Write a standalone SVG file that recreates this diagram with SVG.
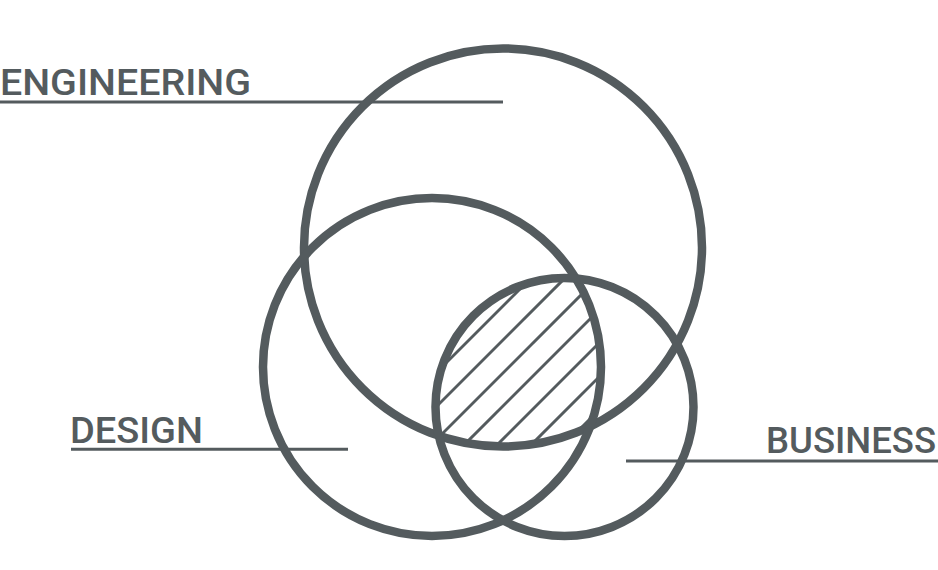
<svg xmlns="http://www.w3.org/2000/svg" width="938" height="570" viewBox="0 0 938 570">
<style>
.ring{fill:none;stroke:#545b5e;stroke-width:8.5}
.hatch{stroke:#545b5e;stroke-width:3}
.lead{stroke:#545b5e;stroke-width:3}
.label{font-family:Roboto,"Liberation Sans",Arial,sans-serif;font-weight:500;font-size:37px;fill:#545b5e}
</style>
<defs>
<clipPath id="cEng"><circle cx="503" cy="247.5" r="199"/></clipPath>
<clipPath id="cDes" clip-path="url(#cEng)"><circle cx="432" cy="367" r="169"/></clipPath>
<clipPath id="cBus" clip-path="url(#cDes)"><circle cx="564.5" cy="407" r="129"/></clipPath>
</defs>
<rect width="938" height="570" fill="#ffffff"/>
<g id="hatching" clip-path="url(#cBus)">
<line class="hatch" x1="300" y1="509" x2="700" y2="109"/>
<line class="hatch" x1="300" y1="543" x2="700" y2="143"/>
<line class="hatch" x1="300" y1="576" x2="700" y2="176"/>
<line class="hatch" x1="300" y1="609" x2="700" y2="209"/>
<line class="hatch" x1="300" y1="642" x2="700" y2="242"/>
<line class="hatch" x1="300" y1="676" x2="700" y2="276"/>
<line class="hatch" x1="300" y1="709" x2="700" y2="309"/>
</g>
<g id="connectors">
<line class="lead" x1="0" y1="102" x2="503" y2="102"/>
<line class="lead" x1="71" y1="449.3" x2="348" y2="449.3"/>
<line class="lead" x1="626" y1="461" x2="938" y2="461"/>
</g>
<g id="engineering">
<circle class="ring" cx="503" cy="247.5" r="199"/>
<text class="label" x="0" y="95" textLength="251" lengthAdjust="spacingAndGlyphs">ENGINEERING</text>
</g>
<g id="design">
<circle class="ring" cx="432" cy="367" r="169"/>
<text class="label" x="70" y="443" textLength="133" lengthAdjust="spacingAndGlyphs">DESIGN</text>
</g>
<g id="business">
<circle class="ring" cx="564.5" cy="407" r="129"/>
<text class="label" x="766" y="453" textLength="170" lengthAdjust="spacingAndGlyphs">BUSINESS</text>
</g>
</svg>
